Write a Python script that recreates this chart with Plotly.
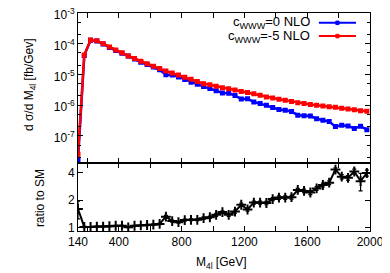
import plotly.graph_objects as go
from plotly.subplots import make_subplots

# bin centres [GeV]
m4l = [140, 180, 220, 260, 300, 340, 380, 420, 460, 500, 540, 580, 620, 660,
       700, 740, 780, 820, 860, 900, 940, 980, 1020, 1060, 1100, 1140, 1180,
       1220, 1260, 1300, 1340, 1380, 1420, 1460, 1500, 1540, 1580, 1620, 1660,
       1700, 1740, 1780, 1820, 1860, 1900, 1940, 1980]

# d sigma / d M4l [fb/GeV], c_WWW = 0 NLO
sm_nlo = [1.6e-8, 4.17e-5, 1.29e-4, 1.23e-4, 9.8e-5, 7.6e-5, 6.0e-5, 4.9e-5,
          4.0e-5, 3.16e-5, 2.5e-5, 2.09e-5, 1.74e-5, 1.41e-5, 9.8e-6, 9.5e-6,
          8.3e-6, 6.8e-6, 5.6e-6, 4.8e-6, 4.0e-6, 3.5e-6, 2.95e-6, 2.5e-6,
          2.45e-6, 2.04e-6, 1.58e-6, 1.62e-6, 1.26e-6, 1.12e-6, 9.8e-7, 8.3e-7,
          7.2e-7, 6.8e-7, 6.2e-7, 4.7e-7, 4.5e-7, 4.4e-7, 3.6e-7, 3.2e-7,
          2.9e-7, 2.0e-7, 2.2e-7, 2.1e-7, 1.74e-7, 2.04e-7, 1.58e-7]

# c_WWW = -5 NLO
cwww_nlo = [2.5e-8, 4.27e-5, 1.32e-4, 1.26e-4, 1.0e-4, 7.9e-5, 6.3e-5, 5.1e-5,
            4.0e-5, 3.3e-5, 2.7e-5, 2.24e-5, 1.86e-5, 1.55e-5, 1.29e-5, 1.12e-5,
            9.5e-6, 8.1e-6, 6.9e-6, 5.9e-6, 5.0e-6, 4.6e-6, 4.1e-6, 3.7e-6,
            3.4e-6, 3.1e-6, 2.8e-6, 2.57e-6, 2.34e-6, 2.09e-6, 1.82e-6, 1.70e-6,
            1.55e-6, 1.45e-6, 1.32e-6, 1.20e-6, 1.12e-6, 1.05e-6, 9.8e-7, 9.3e-7,
            8.9e-7, 8.5e-7, 7.9e-7, 7.4e-7, 7.1e-7, 6.6e-7, 6.3e-7]

# ratio to SM and its error
ratio = [1.6, 1.02, 1.02, 1.03, 1.03, 1.04, 1.05, 1.05, 1.01, 1.05, 1.06, 1.07,
         1.08, 1.10, 1.32, 1.18, 1.15, 1.21, 1.22, 1.22, 1.27, 1.30, 1.38, 1.48,
         1.38, 1.50, 1.78, 1.58, 1.88, 1.88, 1.86, 2.05, 2.13, 2.13, 2.15, 2.58,
         2.52, 2.42, 2.68, 2.92, 3.1, 4.3, 3.6, 3.5, 4.1, 3.22, 3.95]
ratio_err = [0.35, 0.02, 0.01, 0.01, 0.01, 0.01, 0.01, 0.01, 0.01, 0.01, 0.01,
             0.02, 0.02, 0.02, 0.04, 0.03, 0.03, 0.03, 0.03, 0.03, 0.04, 0.04,
             0.05, 0.05, 0.05, 0.06, 0.07, 0.06, 0.07, 0.07, 0.08, 0.08, 0.09,
             0.09, 0.1, 0.11, 0.11, 0.12, 0.13, 0.14, 0.15, 0.2, 0.2, 0.2, 0.25,
             0.7, 0.3]

x_ticks = [140, 200, 400, 600, 800, 1000, 1200, 1400, 1600, 1800, 2000]
x_labels = ['140', '', '400', '', '800', '', '1200', '', '1600', '', '2000']
y_ticks = [1e-7, 1e-6, 1e-5, 1e-4, 1e-3]
y_labels = ['10<sup>-7</sup>', '10<sup>-6</sup>', '10<sup>-5</sup>',
            '10<sup>-4</sup>', '10<sup>-3</sup>']
y_minor = [2e-8, 5e-8, 2e-7, 5e-7, 2e-6, 5e-6, 2e-5, 5e-5, 2e-4, 5e-4]

blue = '#0000ff'
red = '#ff0000'

fig = make_subplots(rows=2, cols=1, shared_xaxes=True, vertical_spacing=0,
                    row_heights=[0.687, 0.313])

fig.add_trace(go.Scatter(x=m4l, y=sm_nlo, mode='lines+markers',
                         line=dict(color=blue, width=2.5),
                         marker=dict(symbol='square', size=5, color=blue),
                         showlegend=False), row=1, col=1)
fig.add_trace(go.Scatter(x=m4l, y=cwww_nlo, mode='lines+markers',
                         line=dict(color=red, width=2.5),
                         marker=dict(symbol='square', size=5, color=red),
                         showlegend=False), row=1, col=1)
fig.add_trace(go.Scatter(x=m4l, y=ratio, mode='lines+markers',
                         line=dict(color='black', width=2),
                         marker=dict(symbol='cross-thin', size=7, color='black',
                                     line=dict(width=2, color='black')),
                         error_y=dict(type='data', array=ratio_err,
                                      color='black', thickness=1.2, width=2),
                         showlegend=False), row=2, col=1)

font = dict(family='Liberation Sans, Arial, sans-serif', size=12, color='black')

axis_common = dict(showline=True, linecolor='black', linewidth=1, mirror='ticks',
                   ticks='inside', ticklen=5, tickcolor='black', showgrid=False,
                   zeroline=False, automargin=False, ticklabeloverflow='allow')

fig.update_xaxes(range=[140, 2000], tickvals=x_ticks, ticktext=x_labels,
                 **axis_common)
fig.update_xaxes(showticklabels=False, row=1, col=1)
fig.update_yaxes(type='log', range=[-7.88, -2.998], tickvals=y_ticks,
                 ticktext=y_labels, ticklabelshift=2,
                 minor=dict(tickvals=y_minor, ticks='inside', ticklen=3,
                            tickcolor='black'),
                 row=1, col=1, **axis_common)
fig.update_yaxes(type='log', range=[-0.036, 0.708], tickvals=[1, 2, 4],
                 ticktext=['1', '2', '4'], row=2, col=1, **axis_common)

# axis titles
fig.add_annotation(text='d σ/d M<sub>4l</sub> [fb/Gev]', xref='paper',
                   yref='paper', x=-0.164, y=0.67, textangle=-90,
                   xanchor='center', yanchor='middle',
                   showarrow=False, font=font)
fig.add_annotation(text='ratio to SM', xref='paper', yref='paper', x=-0.13,
                   y=0.151, textangle=-90, xanchor='center', yanchor='middle',
                   showarrow=False, font=font)
fig.add_annotation(text='M<sub>4l</sub> [GeV]', xref='paper', yref='paper',
                   x=0.493, y=-0.147, xanchor='center', yanchor='middle',
                   showarrow=False, font=font)

# gnuplot style key: text on the left, sample on the right
key_font = dict(font, size=13)
key = [('c<sub>WWW</sub>=0 NLO', blue, 0.955),
       ('c<sub>WWW</sub>=-5 NLO', red, 0.894)]
for label, col, ky in key:
    fig.add_annotation(text=label, xref='paper', yref='paper', x=0.80, y=ky,
                       xanchor='right', yanchor='middle', showarrow=False,
                       font=key_font)
    fig.add_shape(type='line', xref='paper', yref='paper', x0=0.825, x1=0.952,
                  y0=ky, y1=ky, line=dict(color=col, width=2))
    fig.add_shape(type='rect', xref='paper', yref='paper', x0=0.883, x1=0.894,
                  y0=ky - 0.008, y1=ky + 0.008, line=dict(color=col, width=1),
                  fillcolor=col)

# the page body adds an 8 px offset, so the figure is drawn 8 px smaller
fig.update_layout(
    width=382,
    height=265,
    margin=dict(l=70, r=20, t=5, b=42),
    plot_bgcolor='white',
    paper_bgcolor='white',
    font=font,
)
fig.write_html('out.html')
